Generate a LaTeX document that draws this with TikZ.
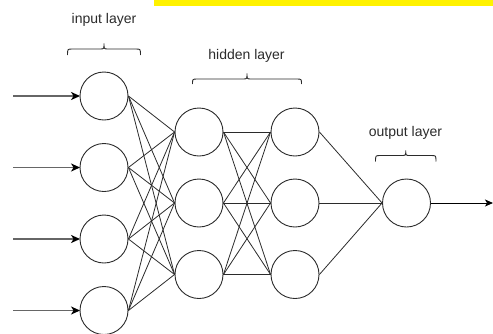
\documentclass[tikz,border=0pt]{standalone}
\usepackage{fontspec}
\setmainfont{Liberation Sans}
\usetikzlibrary{arrows.meta}
\definecolor{strokegray}{HTML}{2B2B2B}
\definecolor{inputgray}{HTML}{666666}

% curly brace opening downwards: left x, right x, end y, bar y, tip y
\newcommand\layerbrace[5]{%
  \draw[bracestyle] (#1,#3) .. controls (#1,#4) .. (#1+5,#4)
    -- ({(#1+#2)/2-4},#4) .. controls ({(#1+#2)/2},#4) .. ({(#1+#2)/2},#5)
    .. controls ({(#1+#2)/2},#4) .. ({(#1+#2)/2+4},#4)
    -- (#2-5,#4) .. controls (#2,#4) .. (#2,#3);}

\begin{document}
\begin{tikzpicture}[x=1pt,y=-1pt,
  neuron/.style={circle,draw=strokegray,line width=0.9pt,minimum size=48pt,inner sep=0pt},
  link/.style={draw=strokegray,line width=0.8pt},
  inarrow/.style={draw=inputgray,line width=1.8pt,-{Stealth[length=9pt,width=8pt,inset=2.5pt,color=black]},shorten >=-0.5pt},
  outarrow/.style={draw=black,line width=1pt,-{Stealth[length=8pt,width=7pt,inset=2pt]}},
  layerlabel/.style={font=\fontsize{14}{16}\selectfont,text=strokegray,anchor=base,inner sep=0pt},
  bracestyle/.style={draw=strokegray,line width=0.9pt}]
\useasboundingbox (0,0) rectangle (493,333);

% highlight strip along the top edge
\fill[yellow] (153.5,0) rectangle (493,5.5);

% neurons
\foreach \i/\y in {1/96,2/167.5,3/239,4/310.5}
  \node[neuron] (in\i) at (104,\y) {};
\foreach \i/\y in {1/132,2/203,3/274.5} {
  \node[neuron] (ha\i) at (199,\y) {};
  \node[neuron] (hb\i) at (295,\y) {};
}
\node[neuron] (out) at (406.5,203) {};

% input arrows
\foreach \i/\y in {1/96,2/167.5,3/239,4/310.5}
  \coordinate (src\i) at (13,\y);
\foreach \i in {1,...,4}
  \draw[inarrow] (src\i) -- (in\i.west);

% fully connected layers
\foreach \i in {1,...,4}
  \foreach \j in {1,2,3}
    \draw[link] (in\i.east) -- (ha\j.west);
\foreach \i in {1,2,3}
  \foreach \j in {1,2,3}
    \draw[link] (ha\i.east) -- (hb\j.west);
\foreach \i in {1,2,3}
  \draw[link] (hb\i.east) -- (out.west);

% output arrow
\coordinate (sink) at (493,203);
\draw[outarrow] (out.east) -- (sink);

% layer labels and braces
\node[layerlabel] (lin) at (104,23) {input layer};
\node[layerlabel] (lhid) at (246.5,59) {hidden layer};
\node[layerlabel] (lout) at (405.5,136) {output layer};
\layerbrace{67.5}{140.5}{55}{49}{43.5}
\layerbrace{192.5}{301.5}{84}{79}{73.5}
\layerbrace{375.5}{436}{161.5}{155.5}{150.5}
\end{tikzpicture}
\end{document}
